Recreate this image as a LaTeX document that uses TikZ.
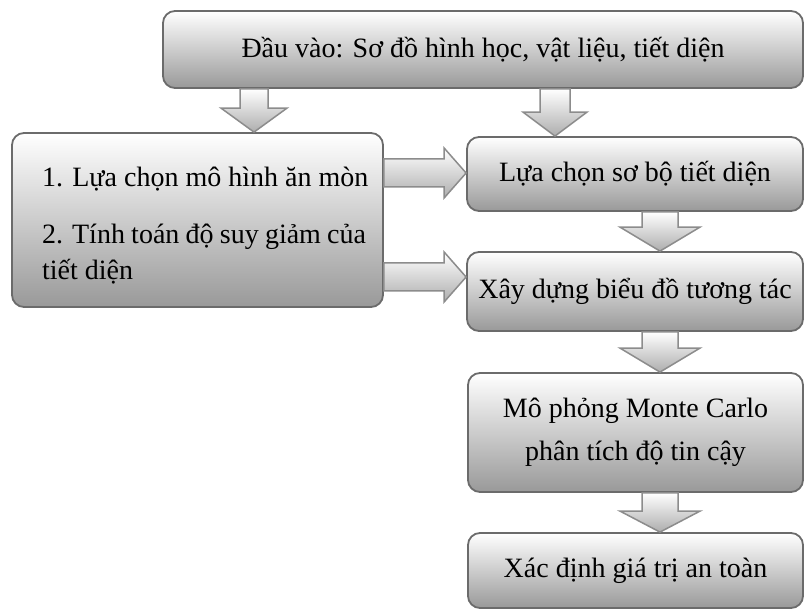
\documentclass[tikz,border=0pt]{standalone}
\usepackage{fontspec}
\setmainfont{Liberation Serif}
\usetikzlibrary{calc}
\tikzset{
  flowbox/.style={draw=black!58, line width=0.9pt, rounded corners=6pt,
    top color=white, bottom color=black!40, inner sep=0pt,
    font=\fontsize{14}{16.5}\selectfont},
  blockarrow/.style={draw=black!45, line width=0.75pt, line join=miter,
    top color=white, bottom color=black!32},
}
% down block arrow: from, to, shaft half, head half, head length
\newcommand{\vblock}[5]{%
  \path[blockarrow] let \p1=(#1), \p2=(#2) in
    (\x1-#3,\y1) -- (\x1-#3,\y2+#5) -- (\x1-#4,\y2+#5) -- (\x2,\y2)
    -- (\x1+#4,\y2+#5) -- (\x1+#3,\y2+#5) -- (\x1+#3,\y1) -- cycle;}
% right block arrow: from, to, shaft half, head half, head length
\newcommand{\hblock}[5]{%
  \path[blockarrow] let \p1=(#1), \p2=(#2) in
    (\x1,\y1+#3) -- (\x2-#5,\y1+#3) -- (\x2-#5,\y1+#4) -- (\x2,\y2)
    -- (\x2-#5,\y1-#4) -- (\x2-#5,\y1-#3) -- (\x1,\y1-#3) -- cycle;}
\begin{document}
\begin{tikzpicture}[x=0.5pt,y=-0.5pt]
\useasboundingbox (0,0) rectangle (805,610);
%%
  % Node: Input
  \node[flowbox, minimum width=320pt, minimum height=38.5pt] (input) at (483,49.5)
    {Đầu vào: Sơ đồ hình học, vật liệu, tiết diện};
  % Node: Corrosion
  \node[flowbox, minimum width=185.5pt, minimum height=87pt] (corr) at (197.5,220) {};
  \node[font=\fontsize{14}{16.5}\selectfont, align=left, anchor=west] (corrtext) at (35,226)
    {1. Lựa chọn mô hình ăn mòn\\[12pt]\makebox[162pt][s]{2. Tính toán độ suy giảm của}\\[1.5pt]tiết diện};
  % Node: Section
  \node[flowbox, minimum width=168pt, minimum height=37pt] (sect) at (635,174)
    {Lựa chọn sơ bộ tiết diện};
  % Node: Interaction
  \node[flowbox, minimum width=168pt, minimum height=39.5pt] (inter) at (635,291.5)
    {Xây dựng biểu đồ tương tác};
  % Node: MonteCarlo
  \node[flowbox, minimum width=167.5pt, minimum height=59.5pt, align=center] (mc) at (635.5,432.5)
    {Mô phỏng Monte Carlo\\[5pt]phân tích độ tin cậy};
  % Node: Safety
  \node[flowbox, minimum width=167.5pt, minimum height=37.5pt] (safe) at (635.5,570.5)
    {Xác định giá trị an toàn};
%
  \coordinate (axl) at (254,0);
  \coordinate (axr) at (555,0);
  \coordinate (axm) at (660,0);
  \coordinate (ayu) at (0,173);
  \coordinate (ayl) at (0,277);
  % Edge: Input -> Corrosion
  \vblock{input.south -| axl}{corr.north -| axl}{7pt}{16.5pt}{12pt}
  % Edge: Input -> Section
  \vblock{input.south -| axr}{sect.north -| axr}{7.5pt}{16pt}{12pt}
  % Edge: Corrosion -> Section
  \hblock{corr.east |- ayu}{sect.west |- ayu}{7pt}{12.5pt}{11pt}
  % Edge: Corrosion -> Interaction
  \hblock{corr.east |- ayl}{inter.west |- ayl}{7pt}{12.5pt}{11pt}
  % Edge: Section -> Interaction
  \vblock{sect.south -| axm}{inter.north -| axm}{9pt}{20pt}{12pt}
  % Edge: Interaction -> MonteCarlo
  \vblock{inter.south -| axm}{mc.north -| axm}{9pt}{20pt}{12pt}
  % Edge: MonteCarlo -> Safety
  \vblock{mc.south -| axm}{safe.north -| axm}{9pt}{20pt}{10.5pt}
%
\end{tikzpicture}
\end{document}
